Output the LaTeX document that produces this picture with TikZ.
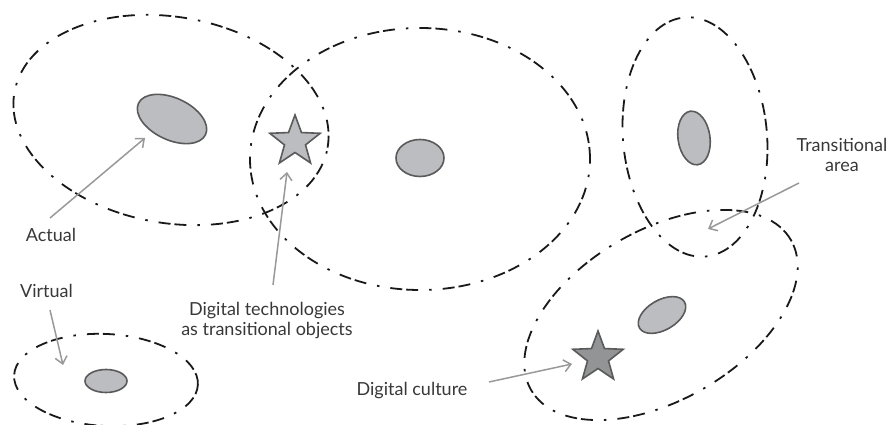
\documentclass[tikz,border=0pt]{standalone}
\usepackage{fontspec}
\setmainfont{Lato}
\usetikzlibrary{shapes.geometric,arrows.meta}
\definecolor{blobfill}{HTML}{BCBDC0}
\definecolor{blobline}{HTML}{5A5A5A}
\definecolor{starfill}{HTML}{939496}
\definecolor{arrowgray}{HTML}{999999}
\definecolor{txt}{HTML}{383838}
\begin{document}
\begin{tikzpicture}[x=1pt,y=1pt,
  zone/.style={ellipse, draw=black!90, line width=1.8pt, dash pattern=on 12pt off 4pt on 12pt off 11pt on 2.5pt off 11pt, inner sep=0pt},
  blob/.style={ellipse, draw=blobline, fill=blobfill, line width=1.6pt, inner sep=0pt},
  starnode/.style={star, star points=5, star point ratio=2.4, draw=blobline, line width=1.6pt, inner sep=0pt, minimum size=53pt},
  lbl/.style={text=txt, font=\fontsize{18}{20}\selectfont, align=center, inner sep=0pt},
  arr/.style={draw=arrowgray, line width=1.5pt, -{Straight Barb[length=7pt,width=12pt]}}
]
\useasboundingbox (0,0) rectangle (889,425);
% zones
\node[zone, minimum width=318pt, minimum height=206pt, rotate=-10] (zL) at (171,305) {};
\node[zone, minimum width=340pt, minimum height=262pt] (zM) at (420,266) {};
\node[zone, minimum width=144pt, minimum height=240pt, rotate=5] (zT) at (695,288) {};
\node[zone, minimum width=300pt, minimum height=170pt, rotate=30] (zB) at (661,110) {};
\node[zone, minimum width=184pt, minimum height=92pt, rotate=-3] (zV) at (106,45) {};
% blobs
\node[blob, minimum width=74pt, minimum height=42pt, rotate=-25] (bA) at (172,306) {};
\node[blob, minimum width=48pt, minimum height=37pt] (bM) at (420,267) {};
\node[blob, minimum width=32pt, minimum height=54pt, rotate=8] (bT) at (694,287) {};
\node[blob, minimum width=52pt, minimum height=30pt, rotate=30] (bB) at (662,110) {};
\node[blob, minimum width=42pt, minimum height=23pt] (bV) at (106,44) {};
% stars
\node[starnode, fill=blobfill] (s1) at (295,283.5) {};
\node[starnode, fill=starfill] (s2) at (598,67.5) {};
% labels
\node[lbl] (lActual) at (51,190) {Actual};
\node[lbl] (lVirtual) at (46.5,134) {Virtual};
\node[lbl] (lTech) at (267,104) {Digital technologies\\as transitional objects};
\node[lbl] (lTrans) at (842,270) {Transitional\\area};
\node[lbl] (lCult) at (412,34) {Digital culture};
% arrow end points
\coordinate (aS) at (50,207);  \coordinate (aE) at (145,287);
\coordinate (tS) at (273,140); \coordinate (tE) at (287,253);
\coordinate (vS) at (50,115);  \coordinate (vE) at (63,60);
\coordinate (rS) at (799,242); \coordinate (rE) at (708,196);
\coordinate (cS) at (489,43);  \coordinate (cE) at (572,61);
\draw[arr] (aS) -- (aE);
\draw[arr] (tS) -- (tE);
\draw[arr] (vS) -- (vE);
\draw[arr] (rS) -- (rE);
\draw[arr] (cS) -- (cE);
\end{tikzpicture}
\end{document}
